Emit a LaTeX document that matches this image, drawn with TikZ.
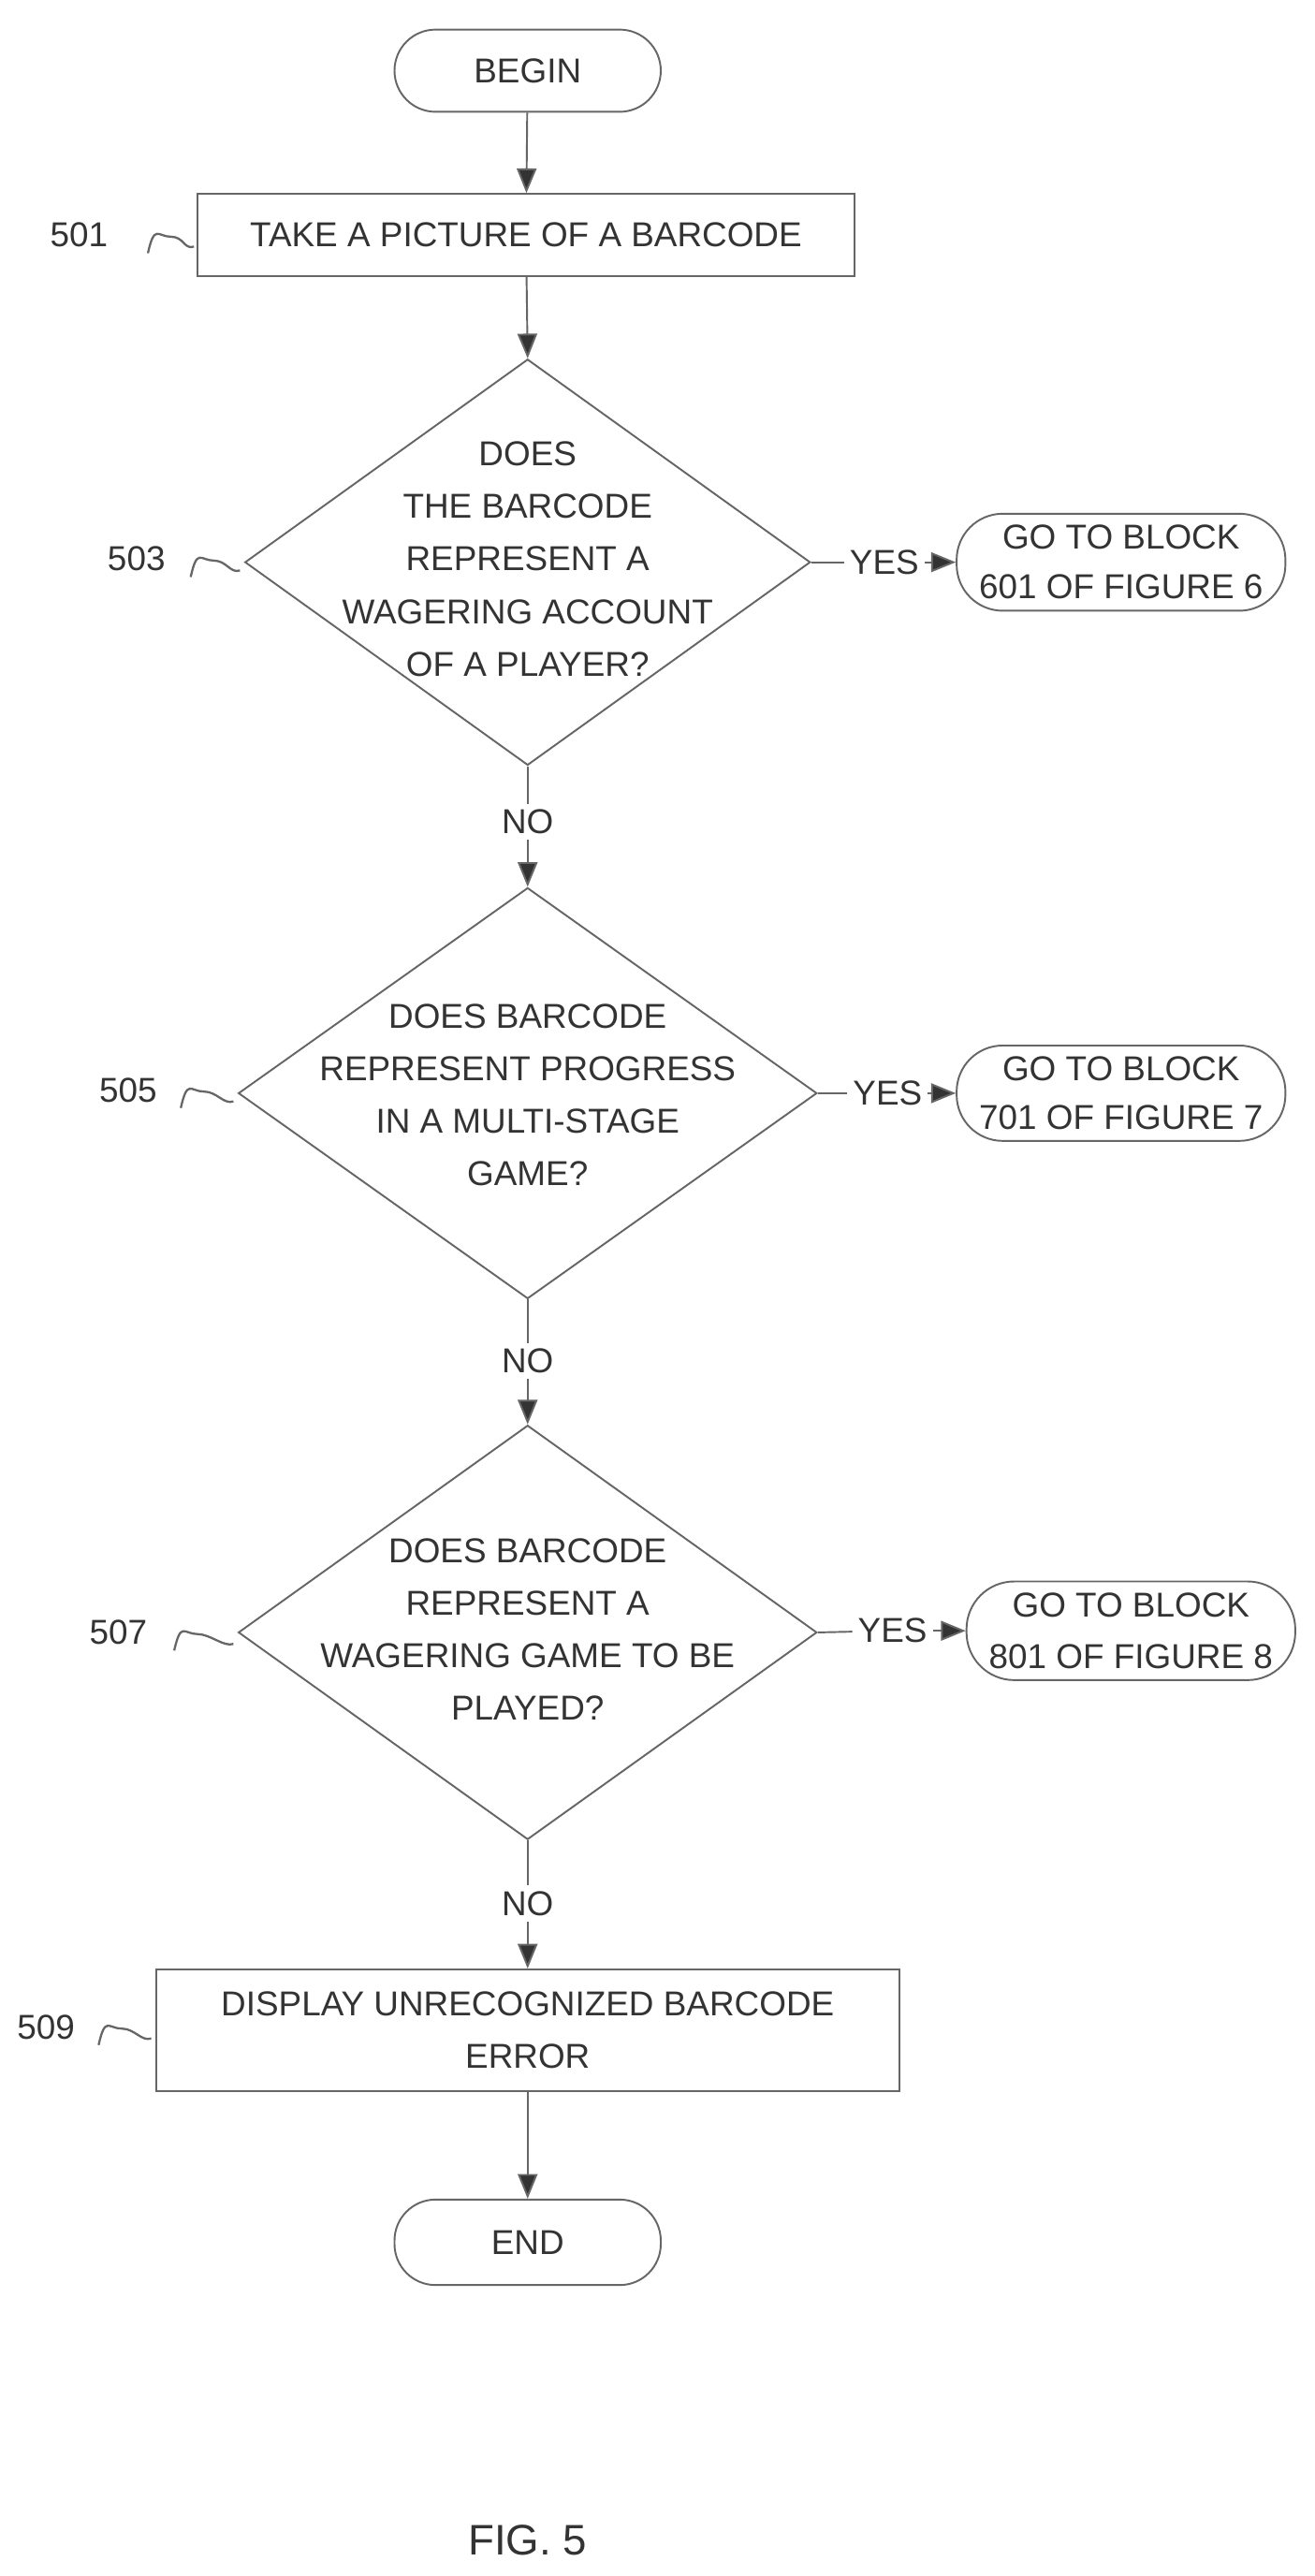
\documentclass[tikz,border=0pt]{standalone}
\usepackage{fontspec}
\setmainfont{Liberation Sans}
\usetikzlibrary{shapes.geometric,arrows.meta}
\begin{document}
\begin{tikzpicture}[x=1pt,y=-1pt,
  every node/.style={font=\fontsize{21}{32}\selectfont,text=black!80},
  ln/.style={draw=black!60,line width=1.1pt},
  arr/.style={ln,-{Triangle[length=15pt,width=12pt,fill=black!80]}},
  term/.style={ln,rounded corners=25pt,minimum width=162pt,minimum height=50pt},
  box/.style={ln,rectangle,align=center},
  dia/.style={ln,diamond,aspect=1.4,align=center,inner sep=0pt},
  sq/.style={ln,line width=1.3pt}]
\useasboundingbox (0,0) rectangle (800,1567);
\fill[white] (0,0) rectangle (800,1567);
\node[term] (begin) at (321,43) {BEGIN};
\node[box,minimum width=400pt,minimum height=50pt] (b501) at (320,143) {TAKE A PICTURE OF A BARCODE};
\node[dia,minimum width=344pt,minimum height=247pt] (d503) at (321,342) {};
\node[align=center] at (321,340) {DOES\\THE BARCODE\\REPRESENT A\\WAGERING ACCOUNT\\OF A PLAYER?};
\node (yes1) at (538,342) {YES};
\node[term,minimum width=200pt,minimum height=59pt,align=center,rounded corners=28pt,font=\fontsize{21}{30}\selectfont] (g6) at (682,342) {GO TO BLOCK\\601 OF FIGURE 6};
\node (no1) at (321,500) {NO};
\node[dia,minimum width=352pt,minimum height=250pt] (d505) at (321,665) {};
\node[align=center] at (321,666) {DOES BARCODE\\REPRESENT PROGRESS\\IN A MULTI-STAGE\\GAME?};
\node (yes2) at (540,665) {YES};
\node[term,minimum width=200pt,minimum height=58pt,align=center,rounded corners=28pt,font=\fontsize{21}{30}\selectfont] (g7) at (682,665) {GO TO BLOCK\\701 OF FIGURE 7};
\node (no2) at (321,828) {NO};
\node[dia,minimum width=352pt,minimum height=252pt] (d507) at (321,993) {};
\node[align=center] at (321,991) {DOES BARCODE\\REPRESENT A\\WAGERING GAME TO BE\\PLAYED?};
\node (yes3) at (543,992) {YES};
\node[term,minimum width=200pt,minimum height=60pt,align=center,rounded corners=29pt,font=\fontsize{21}{31}\selectfont] (g8) at (688,992) {GO TO BLOCK\\801 OF FIGURE 8};
\node (no3) at (321,1158) {NO};
\node[box,minimum width=452pt,minimum height=74pt] (b509) at (321,1235) {DISPLAY UNRECOGNIZED BARCODE\\ERROR};
\node[term,minimum height=52pt] (end) at (321,1364) {END};
\node[font=\fontsize{26}{30}\selectfont] (fig) at (321,1545) {FIG. 5};
% connectors
\draw[arr] (begin) -- (b501);
\draw[arr] (b501) -- (d503.north);
\draw[ln] (d503.south) -- (no1);
\draw[arr] (no1) -- (d505.north);
\draw[ln] (d505.south) -- (no2);
\draw[arr] (no2) -- (d507.north);
\draw[ln] (d507.south) -- (no3);
\draw[arr] (no3) -- (b509);
\draw[arr] (b509) -- (end);
\draw[ln] (d503.east) -- (yes1);
\draw[arr] (yes1) -- (g6);
\draw[ln] (d505.east) -- (yes2);
\draw[arr] (yes2) -- (g7);
\draw[ln] (d507.east) -- (yes3);
\draw[arr] (yes3) -- (g8);
% labels with squiggles
\tikzset{squig/.style={sq}}
\node (l501) at (48,143) {501};
\coordinate (s1) at (90,154);
\draw[sq] (s1) .. controls +(4,-18) and +(-8,0) .. +(14,-10) .. controls +(8,0) and +(-6,2) .. +(28,-4);
\node (l503) at (83,340) {503};
\coordinate (s3) at (116,351);
\draw[sq] (s3) .. controls +(4,-18) and +(-8,0) .. +(14,-10) .. controls +(8,0) and +(-6,2) .. +(30,-4);
\node (l505) at (78,663) {505};
\coordinate (s5) at (110,674);
\draw[sq] (s5) .. controls +(4,-18) and +(-8,0) .. +(14,-10) .. controls +(8,0) and +(-6,2) .. +(32,-4);
\node (l507) at (72,993) {507};
\coordinate (s7) at (106,1004);
\draw[sq] (s7) .. controls +(4,-18) and +(-8,0) .. +(14,-10) .. controls +(8,0) and +(-6,2) .. +(36,-4);
\node (l509) at (28,1233) {509};
\coordinate (s9) at (60,1244);
\draw[sq] (s9) .. controls +(4,-18) and +(-8,0) .. +(14,-10) .. controls +(8,0) and +(-6,2) .. +(32,-4);
\end{tikzpicture}
\end{document}
